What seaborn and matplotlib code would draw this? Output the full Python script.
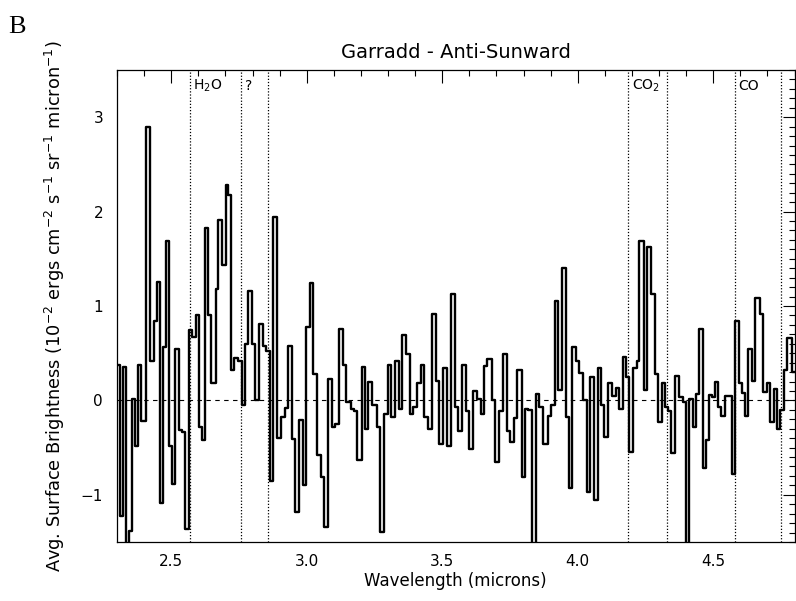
import matplotlib
matplotlib.use("Agg")
import matplotlib.pyplot as plt
from matplotlib.ticker import MultipleLocator
import pandas as pd
import seaborn as sns

# ---- data ----
wl_left = [
    2.300, 2.311, 2.322, 2.333, 2.344, 2.355, 2.366, 2.377, 2.388, 2.407,
    2.422, 2.436, 2.447, 2.459, 2.470, 2.481, 2.492, 2.503, 2.514, 2.529,
    2.540, 2.551, 2.565, 2.577, 2.591, 2.602, 2.613, 2.624, 2.636, 2.647,
    2.665, 2.672, 2.687, 2.702, 2.709, 2.720, 2.731, 2.746, 2.761, 2.772,
    2.783, 2.798, 2.809, 2.824, 2.838, 2.849, 2.864, 2.875, 2.890, 2.905,
    2.919, 2.931, 2.945, 2.956, 2.971, 2.986, 2.997, 3.012, 3.023, 3.037,
    3.052, 3.063, 3.078, 3.093, 3.104, 3.119, 3.133, 3.144, 3.163, 3.174,
    3.185, 3.203, 3.214, 3.226, 3.240, 3.259, 3.270, 3.285, 3.299, 3.310,
    3.325, 3.340, 3.351, 3.366, 3.380, 3.391, 3.406, 3.421, 3.432, 3.447,
    3.461, 3.476, 3.487, 3.502, 3.517, 3.532, 3.546, 3.557, 3.572, 3.587,
    3.598, 3.613, 3.627, 3.642, 3.653, 3.664, 3.683, 3.694, 3.709, 3.723,
    3.738, 3.749, 3.764, 3.775, 3.793, 3.804, 3.816, 3.830, 3.845, 3.856,
    3.871, 3.889, 3.900, 3.915, 3.926, 3.941, 3.956, 3.967, 3.978, 3.992,
    4.004, 4.018, 4.033, 4.044, 4.059, 4.074, 4.085, 4.096, 4.110, 4.125,
    4.140, 4.151, 4.166, 4.177, 4.188, 4.203, 4.217, 4.228, 4.243, 4.254,
    4.269, 4.284, 4.295, 4.310, 4.321, 4.332, 4.346, 4.358, 4.372, 4.387,
    4.398, 4.409, 4.424, 4.435, 4.446, 4.461, 4.472, 4.483, 4.494, 4.505,
    4.516, 4.527, 4.542, 4.553, 4.568, 4.579, 4.594, 4.608, 4.619, 4.630,
    4.645, 4.656, 4.671, 4.682, 4.697, 4.708, 4.723, 4.737, 4.748, 4.763,
    4.774, 4.789,
]
wl_end = 4.800

brightness = [
    0.37, -1.22, 0.35, -1.60, -1.38, 0.02, -0.48, 0.37, -0.22, 2.90,
    0.42, 0.84, 1.25, -1.09, 0.57, 1.69, -0.48, -0.89, 0.54, -0.31,
    -0.33, -1.36, 0.75, 0.67, 0.90, -0.28, -0.42, 1.83, 0.90, 0.18,
    1.18, 1.91, 1.43, 2.28, 2.18, 0.32, 0.45, 0.42, -0.05, 0.60,
    1.16, 0.60, 0.00, 0.81, 0.58, 0.52, -0.85, 1.94, -0.40, -0.18,
    -0.08, 0.58, -0.41, -1.18, -0.21, -0.90, 0.78, 1.24, 0.28, -0.58,
    -0.81, -1.34, 0.23, -0.28, -0.25, 0.76, 0.37, -0.02, -0.09, -0.11,
    -0.63, 0.35, -0.30, 0.19, -0.05, -0.28, -1.39, -0.14, 0.37, -0.18,
    0.42, -0.09, 0.69, 0.49, -0.14, -0.07, 0.18, 0.37, -0.18, -0.30,
    0.92, 0.21, -0.46, 0.34, -0.48, 1.13, -0.07, -0.32, 0.38, -0.11,
    -0.51, 0.10, 0.01, -0.14, 0.36, 0.44, 0.00, -0.65, -0.11, 0.49,
    -0.32, -0.44, -0.19, 0.32, -0.81, -0.09, -0.10, -1.60, 0.07, -0.07,
    -0.46, -0.16, -0.05, 1.05, 0.11, 1.40, -0.18, -0.93, 0.57, 0.42,
    0.29, 0.00, -0.97, 0.25, -1.05, 0.34, -0.05, -0.39, 0.18, 0.05,
    0.13, -0.09, 0.46, 0.25, -0.55, 0.34, 0.42, 1.69, 0.11, 1.62,
    1.13, 0.28, -0.23, 0.18, -0.07, -0.11, -0.56, 0.26, 0.04, -0.02,
    -1.60, 0.02, -0.28, 0.07, 0.76, -0.72, -0.42, 0.06, 0.04, 0.20,
    -0.07, -0.16, 0.05, 0.05, -0.78, 0.84, 0.18, 0.08, -0.16, 0.54,
    0.21, 1.08, 0.92, 0.09, 0.18, -0.23, 0.12, -0.30, -0.10, 0.32,
    0.66, 0.30,
]

band_lines = [2.569, 2.758, 2.857, 4.186, 4.330, 4.580, 4.750]
band_labels = [r"H$_2$O", "?", r"CO$_2$", "CO"]
band_label_x = [2.569, 2.758, 4.186, 4.580]

title = "Garradd - Anti-Sunward"
xlabel = "Wavelength (microns)"
ylabel = (r"Avg. Surface Brightness (10$^{-2}$ ergs cm$^{-2}$ s$^{-1}$ "
          r"sr$^{-1}$ micron$^{-1}$)")

# ---- figure ----
sns.set_style("white")
plt.rcParams["font.family"] = ["DejaVu Sans"]
plt.rcParams["mathtext.fontset"] = "dejavusans"
for key in ["text.color", "axes.labelcolor", "xtick.color", "ytick.color",
            "axes.edgecolor"]:
    plt.rcParams[key] = "black"

fig = plt.figure(figsize=(7.96, 6.01), dpi=100)
ax = fig.add_axes([117 / 796, 1 - 542 / 601, 677.5 / 796, 472 / 601])

df = pd.DataFrame({
    "wavelength": wl_left + [wl_end],
    "brightness": brightness + [brightness[-1]],
})
sns.lineplot(data=df, x="wavelength", y="brightness", ax=ax,
             drawstyle="steps-post", color="black", linewidth=1.7,
             estimator=None, sort=False)

ax.axhline(0, color="black", linewidth=0.8, linestyle=(0, (4, 4)))
for xv in band_lines:
    ax.axvline(xv, color="black", linewidth=0.9, linestyle=(0, (1, 1.5)))
for lab, xv in zip(band_labels, band_label_x):
    ax.text(xv + 0.013, 3.33, lab, fontsize=10, ha="left", va="center",
            color="black")

ax.set_xlim(2.3, 4.8)
ax.set_ylim(-1.5, 3.5)
ax.xaxis.set_major_locator(MultipleLocator(0.5))
ax.xaxis.set_minor_locator(MultipleLocator(0.1))
ax.yaxis.set_major_locator(MultipleLocator(1))
ax.yaxis.set_minor_locator(MultipleLocator(0.1))
ax.tick_params(which="both", direction="in", top=True, right=True,
               color="black", width=0.8, labelcolor="black")
ax.tick_params(which="major", length=9, labelsize=11)
ax.tick_params(which="minor", length=4)
ax.tick_params(axis="x", which="major", pad=9)
ax.tick_params(axis="y", which="major", pad=10)
for sp in ax.spines.values():
    sp.set_color("black")
    sp.set_linewidth(0.9)

ax.set_title(title, fontsize=14, pad=9, color="black")
ax.set_xlabel(xlabel, fontsize=12, labelpad=2, color="black")
ax.set_ylabel(ylabel, fontsize=12.8, labelpad=10, color="black")

fig.text(0.010, 0.945, "B", fontsize=19, family="Liberation Serif",
         color="black")

fig.savefig("out.png", dpi=100)
